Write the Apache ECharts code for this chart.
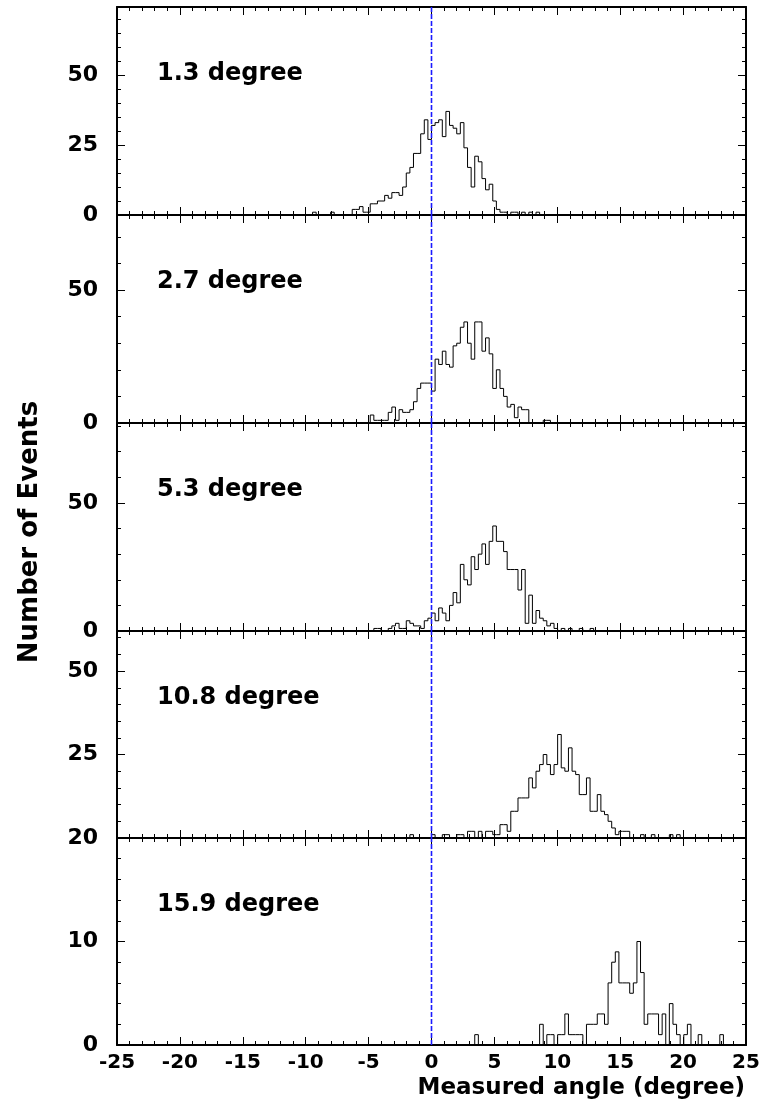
<!DOCTYPE html>
<html><head><meta charset="utf-8">
<script src="https://cdn.jsdelivr.net/npm/echarts@6/dist/echarts.min.js"></script>
<style>html,body{margin:0;padding:0;background:#fff}#c{width:774px;height:1108px}</style>
</head><body><div id="c"></div>
<script>
// ---------------- data ----------------
const BIN_DEG = 0.28648;            // bin width (5 mrad) in degrees
const xMin = -25, xMax = 25;
const xTickLabels = [-25, -20, -15, -10, -5, 0, 5, 10, 15, 20, 25];
const panelNames = ['1.3 degree', '2.7 degree', '5.3 degree', '10.8 degree', '15.9 degree'];
const yMaxes = [74.3, 78.2, 81.2, 62, 20];
const yMajorSteps = [25, 50, 50, 25, 10];
const yMinorSteps = [5, 10, 10, 5, 2];
const yTickLabels1 = [0, 25, 50];
const yTickLabels2 = [0, 50];
const yTickLabels3 = [0, 50];
const yTickLabels4 = [25, 50];
const yTickLabels5 = [0, 10, 20];
const refAngle = 0;                 // dashed reference line position (degree)

const firstBin1 = -33;
const counts1 = [1,0,0,0,0,1,0,0,0,0,0,2,2,3,1,1,4,4,5,5,7,6,8,8,7,10,15,17,22,22,29,34,27,32,33,34,28,37,32,31,29,33,24,17,10,21,19,13,9,11,5,2,1,1,0,1,1,0,1,0,1,0,1];
const firstBin2 = -17;
const counts2 = [3,1,1,1,1,4,6,1,5,4,4,5,8,13,15,15,15,12,24,22,27,22,21,29,30,36,38,30,24,38,38,27,32,26,13,20,13,10,6,7,2,6,5,5,0,0,0,0,1,1];
const firstBin3 = -16;
const counts3 = [1,1,0,0,1,2,3,1,1,4,3,2,2,1,4,5,7,4,9,7,4,10,15,11,26,20,18,29,24,30,34,26,35,41,35,35,31,24,24,24,16,24,3,14,3,8,5,4,2,3,1,0,1,0,1,0,0,1,0,0,1];
const firstBin4 = -6;
const counts4 = [1,0,0,0,0,0,1,0,0,1,1,0,0,1,1,0,2,2,0,2,0,2,2,1,1,4,4,2,8,8,12,12,12,18,15,20,22,25,22,19,22,31,21,20,27,20,19,13,13,18,8,8,13,8,7,5,3,1,2,2,2,0,0,0,1,0,0,1,0,0,0,0,1,0,1];
const firstBin5 = 12;
const counts5 = [1,0,0,0,0,0,0,0,0,0,0,0,0,0,0,0,0,0,2,0,1,1,0,1,1,3,1,1,1,1,0,2,2,2,3,3,2,6,8,9,6,6,6,5,6,10,7,2,3,3,3,1,3,0,4,2,1,0,1,2,0,0,1,0,0,0,0,0,1];

// ---------------- layout ----------------
const FONT = 'DejaVu Sans';
const gridLeft = 117, gridWidth = 629;
const tops = [7, 215, 423, 631, 838];
const bottoms = [215, 423, 631, 838, 1045];
const firstBins = [firstBin1, firstBin2, firstBin3, firstBin4, firstBin5];
const countsAll = [counts1, counts2, counts3, counts4, counts5];
const yLabelsAll = [yTickLabels1, yTickLabels2, yTickLabels3, yTickLabels4, yTickLabels5];
const BLUE = '#1a1aff';

function histPoints(first, counts) {
  const pts = [[first * BIN_DEG, 0]];
  counts.forEach((c, j) => pts.push([(first + j) * BIN_DEG, c]));
  pts.push([(first + counts.length) * BIN_DEG, 0]);
  return pts;
}

const grids = [], xAxes = [], yAxes = [], series = [], graphics = [];
for (let i = 0; i < 5; i++) {
  grids.push({left: gridLeft, width: gridWidth, top: tops[i], height: bottoms[i] - tops[i]});
  const isLast = i === 4;
  const mkX = (pos, interval, len, line, labels) => ({
    type: 'value', gridIndex: i, position: pos, min: xMin, max: xMax, interval: interval,
    axisLine: {show: line, onZero: false, lineStyle: {color: '#000', width: 2}},
    axisTick: {show: true, inside: true, length: len, lineStyle: {color: '#000', width: 1}},
    axisLabel: labels ? {show: true, color: '#000', fontFamily: FONT, fontWeight: 'bold', fontSize: 20, margin: 8,
      formatter: v => xTickLabels.includes(v) ? String(v) : ''} : {show: false},
    splitLine: {show: false}
  });
  xAxes.push(mkX('bottom', 1, 4, true, false));
  xAxes.push(mkX('bottom', 5, 8, false, isLast));
  xAxes.push(mkX('top', 1, 4, true, false));
  xAxes.push(mkX('top', 5, 8, false, false));
  const labs = yLabelsAll[i];
  const mkY = (pos, interval, len, line, labels) => ({
    type: 'value', gridIndex: i, position: pos, min: 0, max: yMaxes[i], interval: interval,
    axisLine: {show: line, onZero: false, lineStyle: {color: '#000', width: 2}},
    axisTick: {show: true, inside: true, length: len, lineStyle: {color: '#000', width: 1}},
    axisLabel: labels ? {show: true, color: '#000', fontFamily: FONT, fontWeight: 'bold', fontSize: 22, margin: 19,
      showMinLabel: true, showMaxLabel: true,
      formatter: v => labs.includes(v) ? String(v) : ''} : {show: false},
    splitLine: {show: false}
  });
  yAxes.push(mkY('left', yMinorSteps[i], 4, true, false));
  yAxes.push(mkY('left', yMajorSteps[i], 8, false, true));
  yAxes.push(mkY('right', yMinorSteps[i], 4, true, false));
  yAxes.push(mkY('right', yMajorSteps[i], 8, false, false));

  series.push({
    type: 'line', xAxisIndex: 4 * i, yAxisIndex: 4 * i, step: 'end',
    data: histPoints(firstBins[i], countsAll[i]),
    showSymbol: false, symbol: 'none', clip: true, silent: true, z: 2,
    itemStyle: {color: '#000'},
    lineStyle: {color: '#000', width: 1}
  });
  series.push({
    type: 'line', xAxisIndex: 4 * i, yAxisIndex: 4 * i,
    data: [[refAngle, 0], [refAngle, yMaxes[i]]],
    showSymbol: false, symbol: 'none', clip: true, silent: true, z: 3,
    itemStyle: {color: BLUE},
    lineStyle: {color: BLUE, width: 1.6, type: [5, 2]}
  });
  graphics.push({type: 'text', left: 157, top: tops[i] + 55,
    style: {text: panelNames[i], font: 'bold 24px "' + FONT + '"', fill: '#000'}});
}
graphics.push({type: 'text', x: 30, y: 532, rotation: Math.PI / 2,
  style: {text: 'Number of Events', font: 'bold 26px "' + FONT + '"', fill: '#000',
    textAlign: 'center', textVerticalAlign: 'middle'}});
graphics.push({type: 'text', x: 745, y: 1088,
  style: {text: 'Measured angle (degree)', font: 'bold 23px "' + FONT + '"', fill: '#000',
    textAlign: 'right', textVerticalAlign: 'middle'}});

const chart = echarts.init(document.getElementById('c'), null, {renderer: 'canvas'});
chart.setOption({
  animation: false,
  backgroundColor: '#fff',
  grid: grids, xAxis: xAxes, yAxis: yAxes, series: series, graphic: graphics
});
</script></body></html>
